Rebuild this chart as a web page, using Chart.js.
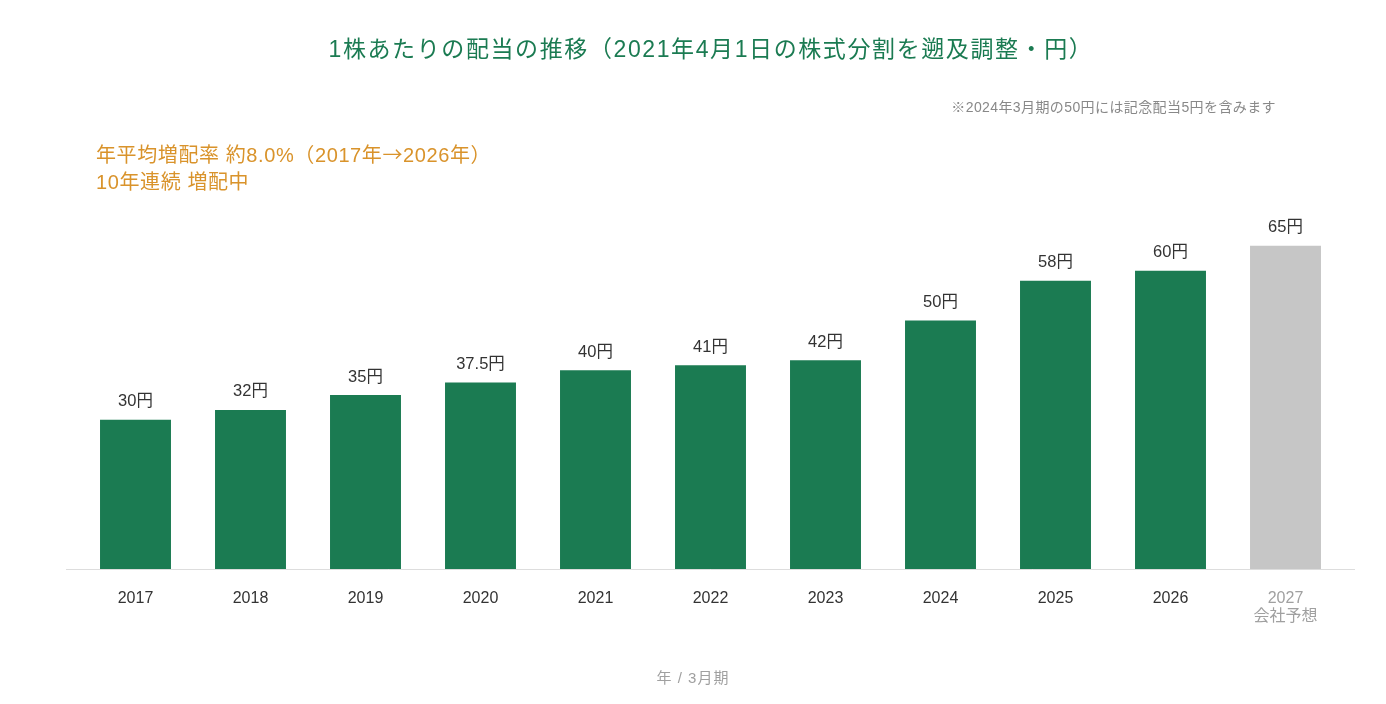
<!DOCTYPE html>
<html>
<head>
  <meta charset="utf-8">
  <title>1株あたりの配当の推移</title>
  <style>
    body { margin: 0; background: #fff; font-family: "Liberation Sans", "Noto Sans CJK JP", sans-serif; }
    .wrap { position: relative; width: 1386px; height: 704px; }
    .chart-box { position: absolute; left: 0; top: 0; width: 1386px; height: 704px; }
    .title { position: absolute; top: 30px; left: 0; width: 1422px; text-align: center; color: #1b7b52; font-size: 23px; letter-spacing: 1.6px; }
    .note { position: absolute; top: 96px; right: 110px; color: #888; font-size: 14px; letter-spacing: 0.4px; }
    .lead { position: absolute; top: 140px; left: 96px; color: #d9932b; font-size: 20px; line-height: 27px; letter-spacing: 0.6px; }
    .arrow { font-family: "Noto Sans CJK JP", sans-serif; }
    .unit { position: absolute; top: 666px; left: 0; width: 1386px; text-align: center; color: #a0a0a0; font-size: 15px; letter-spacing: 1px; }
  </style>
</head>
<body>
<div class="wrap">
  <div class="chart-box"><canvas id="chart"></canvas></div>
  <div class="title">1株あたりの配当の推移（2021年4月1日の株式分割を遡及調整・円）</div>
  <div class="note">※2024年3月期の50円には記念配当5円を含みます</div>
  <div class="lead">年平均増配率 約8.0%（2017年<span class="arrow">→</span>2026年）<br>10年連続 増配中</div>
  <div class="unit">年 / 3月期</div>
</div>

<script src="https://cdn.jsdelivr.net/npm/chart.js"></script>
<script>
  // データ
  const years = ['2017', '2018', '2019', '2020', '2021', '2022', '2023', '2024', '2025', '2026', '2027'];
  const dividends = [30, 32, 35, 37.5, 40, 41, 42, 50, 58, 60, 65];
  const forecastNote = '会社予想';
  const forecastIndex = 10;

  const green = '#1b7b52';
  const gray = '#c6c6c6';
  const fontFamily = '"Liberation Sans", "Noto Sans CJK JP", sans-serif';

  // 棒の上に「○円」を描く
  const valueLabels = {
    id: 'valueLabels',
    afterDatasetsDraw(chart) {
      const ctx = chart.ctx;
      const meta = chart.getDatasetMeta(0);
      ctx.save();
      ctx.fillStyle = '#333';
      ctx.font = '16.5px ' + fontFamily;
      ctx.textAlign = 'center';
      ctx.textBaseline = 'middle';
      meta.data.forEach((bar, i) => {
        ctx.fillText(dividends[i] + '円', bar.x, bar.y - 18);
      });
      ctx.restore();
    }
  };

  // 横軸の線（左右に少しはみ出す）
  const baseLine = {
    id: 'baseLine',
    beforeDatasetsDraw(chart) {
      const ctx = chart.ctx;
      const y = chart.scales.y.getPixelForValue(0);
      ctx.save();
      ctx.strokeStyle = '#dddddd';
      ctx.lineWidth = 1;
      ctx.beginPath();
      ctx.moveTo(chart.chartArea.left - 12, y + 0.5);
      ctx.lineTo(chart.chartArea.right + 12, y + 0.5);
      ctx.stroke();
      ctx.restore();
    }
  };

  const xLabels = years.map((y, i) => i === forecastIndex ? [y, forecastNote] : y);

  new Chart(document.getElementById('chart'), {
    type: 'bar',
    data: {
      labels: xLabels,
      datasets: [{
        data: dividends,
        backgroundColor: dividends.map((v, i) => i === forecastIndex ? gray : green),
        categoryPercentage: 1,
        barPercentage: 0.617
      }]
    },
    options: {
      responsive: true,
      maintainAspectRatio: false,
      animation: false,
      layout: { padding: { left: 78, right: 43, top: 221, bottom: 75 } },
      plugins: { legend: { display: false }, tooltip: { enabled: false } },
      scales: {
        x: {
          grid: { display: false, drawTicks: false },
          border: { display: false },
          afterFit: (s) => { s.height = 60; },
          ticks: {
            padding: 21,
            font: { size: 16, family: fontFamily, lineHeight: 1.1 },
            color: (c) => c.index === forecastIndex ? '#a0a0a0' : '#333'
          }
        },
        y: {
          display: false,
          min: 0,
          max: 70
        }
      }
    },
    plugins: [baseLine, valueLabels]
  });
</script>
</body>
</html>
